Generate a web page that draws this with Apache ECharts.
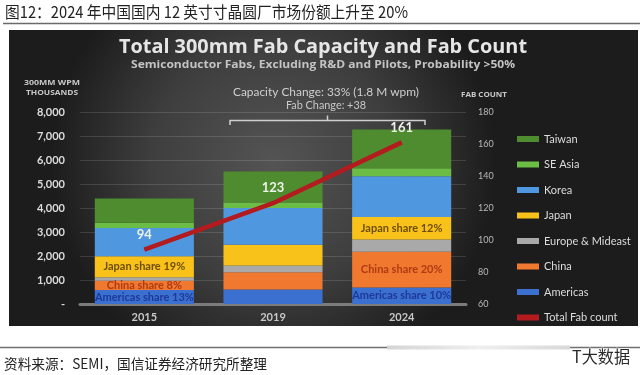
<!DOCTYPE html>
<html>
<head>
<meta charset="utf-8">
<script src="https://cdn.jsdelivr.net/npm/echarts@6/dist/echarts.min.js"></script>
<style>html,body{margin:0;padding:0;background:#fff;}#c{width:640px;height:375px;}</style>
</head>
<body>
<div id="c"></div>
<script>
// ---- data ----
const categories = ['2015', '2019', '2024'];
const americas = [580, 600, 690];
const china = [390, 720, 1490];
const europe = [140, 280, 510];
const japan = [880, 870, 940];
const korea = [1180, 1530, 1690];
const seAsia = [220, 230, 340];
const taiwan = [1010, 1290, 1610];
const fabCount = [94, 123, 161];
const americasLabels = ['Americas share 13%', '', 'Americas share 10%'];
const chinaLabels = ['China share 8%', '', 'China share 20%'];
const japanLabels = ['Japan share 19%', '', 'Japan share 12%'];
const leftTicks = ['-', '1,000', '2,000', '3,000', '4,000', '5,000', '6,000', '7,000', '8,000'];
const rightTicks = ['60', '80', '100', '120', '140', '160', '180'];
const legendNames = ['Taiwan', 'SE Asia', 'Korea', 'Japan', 'Europe & Mideast', 'China', 'Americas', 'Total Fab count'];

// ---- helpers ----
const mctx = document.createElement('canvas').getContext('2d');
function fitScale(text, font, target) {
  mctx.font = font;
  const w = mctx.measureText(text).width;
  return w > 0 ? target / w : 1;
}
function txt(text, x, y, font, fill, align, targetW, extra) {
  const el = {
    type: 'text', x: x, y: y, z: 10,
    style: Object.assign({ text: text, font: font, fill: fill, textAlign: align || 'left', textVerticalAlign: 'middle' }, extra || {})
  };
  if (targetW) el.scaleX = fitScale(text, font, targetW);
  return el;
}
function barSeries(name, values, color, labels, labelColor) {
  return {
    name: name, type: 'bar', stack: 'cap', barCategoryGap: '23%',
    itemStyle: { color: color },
    label: { show: false, position: 'inside', color: labelColor || '#000', fontWeight: 'bold', fontSize: 11, fontFamily: 'Lato' },
    data: values.map(function (v, i) {
      if (labels && labels[i]) return { value: v, label: { show: true, formatter: labels[i] } };
      return v;
    })
  };
}

const chart = echarts.init(document.getElementById('c'), null, { renderer: 'canvas' });
const option = {
  animation: false,
  backgroundColor: '#ffffff',
  grid: { left: 80, right: 174, top: 112, bottom: 71 },
  legend: {
    data: legendNames, orient: 'vertical', left: 512, top: 127,
    icon: 'rect', itemWidth: 22, itemHeight: 6, itemGap: 11.5, selectedMode: false,
    textStyle: { color: '#dcdcdc', fontSize: 11, fontFamily: 'Lato', lineHeight: 14 }
  },
  xAxis: {
    type: 'category', data: categories,
    axisLine: { show: true, lineStyle: { color: '#7c7c7c', width: 3 } },
    axisTick: { show: false },
    axisLabel: { color: '#c8c8c8', fontWeight: 'bold', fontSize: 11, fontFamily: 'Lato', margin: 8 }
  },
  yAxis: [
    {
      type: 'value', min: 0, max: 8000, interval: 1000,
      axisLine: { show: false }, axisTick: { show: false },
      splitLine: { lineStyle: { color: 'rgba(255,255,255,0.13)', width: 1 } },
      axisLabel: { color: '#dcdcdc', fontWeight: 'bold', fontSize: 11, fontFamily: 'Lato', margin: 15,
        formatter: function (v) { return leftTicks[Math.round(v / 1000)]; } }
    },
    {
      type: 'value', min: 60, max: 180, interval: 20,
      axisLine: { show: false }, axisTick: { show: false }, splitLine: { show: false },
      axisLabel: { color: '#b8b8b8', fontSize: 9, fontFamily: 'Lato', margin: 12,
        formatter: function (v) { return rightTicks[Math.round((v - 60) / 20)]; } }
    }
  ],
  series: [
    barSeries('Americas', americas, '#3b6fd0', americasLabels, '#1d3a9a'),
    barSeries('China', china, '#f0782f', chinaLabels, '#b03a14'),
    barSeries('Europe & Mideast', europe, '#a9a9a9'),
    barSeries('Japan', japan, '#f8c21b', japanLabels, '#6e4e00'),
    barSeries('Korea', korea, '#4f97df'),
    barSeries('SE Asia', seAsia, '#6cbd45'),
    barSeries('Taiwan', taiwan, '#4e8c2f'),
    {
      name: 'Total Fab count', type: 'line', yAxisIndex: 1, z: 5,
      data: fabCount, symbol: 'circle', symbolSize: 1,
      itemStyle: { color: '#b31b1f' },
      lineStyle: { color: '#b31b1f', width: 4.5 },
      label: { show: true, position: 'top', distance: 8, color: '#eef3e8', fontWeight: 'bold', fontSize: 13, fontFamily: 'Lato' }
    }
  ],
  graphic: [
    // page header
    txt('图12：2024 年中国国内 12 英寸寸晶圆厂市场份额上升至 20%', 5, 12, '16px "Noto Sans CJK SC"', '#222', 'left', 403),
    { type: 'line', shape: { x1: 3, y1: 23.5, x2: 640, y2: 23.5 }, style: { stroke: '#6a6a6a', lineWidth: 1.5 } },
    // dark panel
    {
      type: 'rect', z: -10, shape: { x: 9, y: 30, width: 629, height: 296 },
      style: { fill: { type: 'radial', x: 0.42, y: 0.45, r: 0.75, colorStops: [
        { offset: 0, color: '#545454' }, { offset: 0.55, color: '#3e3e3e' }, { offset: 1, color: '#1c1c1c' }] } }
    },
    txt('Total 300mm Fab Capacity and Fab Count', 323, 47, 'bold 20px "Open Sans"', '#e6e6e6', 'center', 408),
    txt('Semiconductor Fabs, Excluding R&D and Pilots, Probability >50%', 323, 65, 'bold 10px "Open Sans"', '#c4c4c4', 'center', 384),
    txt('300MM WPM', 52, 83, 'bold 7px "Open Sans"', '#c8c8c8', 'center', 56),
    txt('THOUSANDS', 52, 93, 'bold 7px "Open Sans"', '#c8c8c8', 'center', 52),
    txt('FAB COUNT', 484, 95, 'bold 7px "Open Sans"', '#c8c8c8', 'center', 46),
    txt('Capacity Change: 33% (1.8 M wpm)', 326, 92.5, '12px Lato', '#cfcfcf', 'center', 186),
    txt('Fab Change: +38', 326, 105, '11px Lato', '#c8c8c8', 'center', 80),
    { type: 'polyline', z: 10, shape: { points: [[230, 125], [230, 120.5], [425, 120.5], [425, 125]] }, style: { stroke: '#cfcfcf', lineWidth: 1.5, fill: null } },
    { type: 'line', z: 10, shape: { x1: 327.5, y1: 120.5, x2: 327.5, y2: 115.5 }, style: { stroke: '#cfcfcf', lineWidth: 1.5 } },
    // footer
    { type: 'line', shape: { x1: 0, y1: 347.5, x2: 387, y2: 347.5 }, style: { stroke: '#707070', lineWidth: 1.5 } },
    { type: 'rect', shape: { x: 387, y: 345.5, width: 183, height: 4 }, style: { fill: { type: 'linear', x: 0, y: 0, x2: 1, y2: 0, colorStops: [
      { offset: 0, color: '#d4d4d4' }, { offset: 0.5, color: '#efefef' }, { offset: 1, color: '#d8d8d8' }] } } },
    { type: 'line', shape: { x1: 570, y1: 347.5, x2: 640, y2: 347.5 }, style: { stroke: '#707070', lineWidth: 1.5 } },
    txt('资料来源：SEMI，国信证券经济研究所整理', 4, 363.5, '14px "Noto Sans CJK SC"', '#222', 'left', 263),
    txt('T大数据', 572, 357, '17px "Noto Sans CJK SC"', '#2a2a2a', 'left', 58, { stroke: '#ffffff', lineWidth: 1 })
  ]
};
chart.setOption(option);
</script>
</body>
</html>
